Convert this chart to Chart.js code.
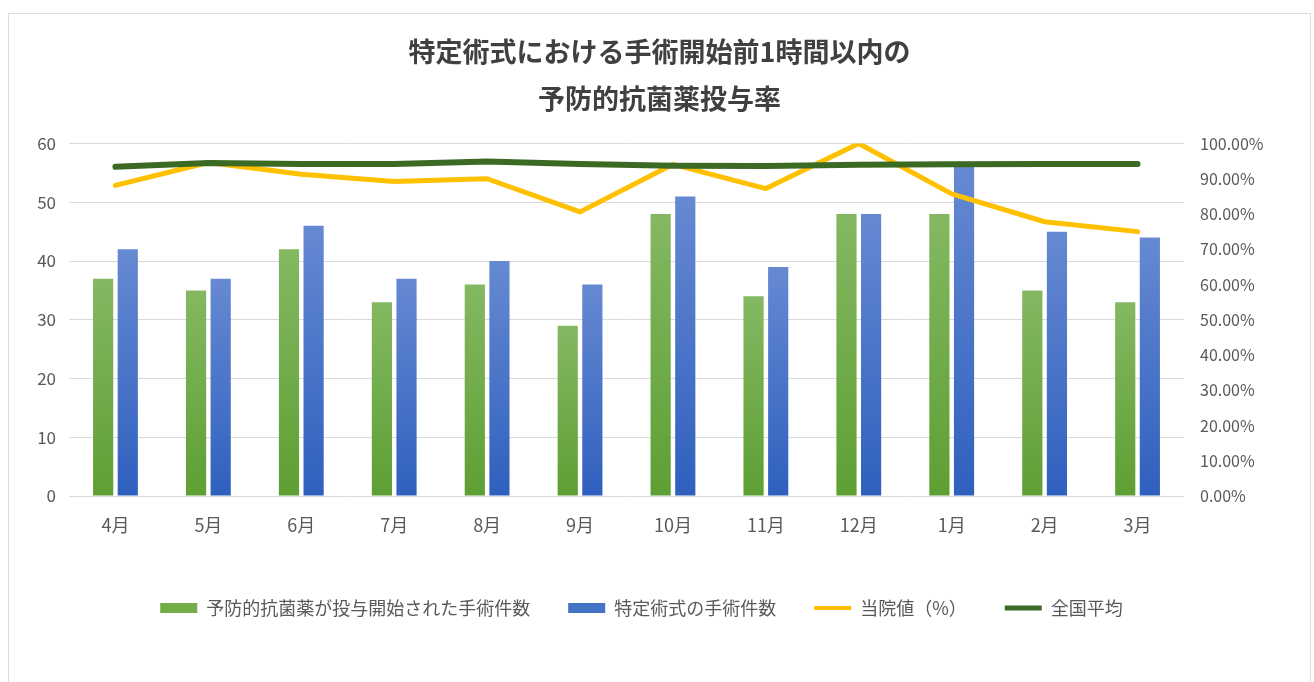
<!DOCTYPE html>
<html>
<head>
<meta charset="utf-8">
<script src="https://cdn.jsdelivr.net/npm/chart.js@4"></script>
<style>
  html,body{margin:0;padding:0;background:#fff;}
  #frame{position:absolute;left:8px;top:13px;width:1303px;height:720px;border:1px solid #dadde0;box-sizing:border-box;background:#fff;}
  #c{position:absolute;left:0;top:0;}
</style>
</head>
<body>
<div id="frame"><canvas id="c" width="1301" height="668"></canvas></div>
<script>
const months = ['4月','5月','6月','7月','8月','9月','10月','11月','12月','1月','2月','3月'];
const givenCount = [37,35,42,33,36,29,48,34,48,48,35,33];
const totalCount = [42,37,46,37,40,36,51,39,48,56,45,44];
const hospitalRate = [88.1,94.6,91.3,89.2,90.0,80.6,94.1,87.2,100,85.7,77.8,75.0];
const nationalAvg = [93.4,94.5,94.2,94.2,94.9,94.2,93.7,93.6,94.0,94.1,94.2,94.2];
const seriesNames = ['予防的抗菌薬が投与開始された手術件数','特定術式の手術件数','当院値（%）','全国平均'];
const titleLines = ['特定術式における手術開始前1時間以内の','予防的抗菌薬投与率'];

const FONT = '"Noto Sans CJK JP", "Noto Sans", sans-serif';
const TXT = '#595959';

function barGradient(top, bottom, fallback) {
  return function(ctx) {
    const chart = ctx.chart;
    const area = chart.chartArea;
    if (!area || ctx.raw == null) return fallback;
    const ys = chart.scales.y;
    const yTop = ys.getPixelForValue(ctx.raw);
    const yBot = ys.getPixelForValue(0);
    if (!isFinite(yTop) || yBot - yTop < 1) return fallback;
    const g = chart.ctx.createLinearGradient(0, yTop, 0, yBot);
    g.addColorStop(0, top);
    g.addColorStop(1, bottom);
    return g;
  };
}

const legendStyles = [
  {fill:'#70ad47', stroke:'#70ad47', style:'rect', lw:0},
  {fill:'#4472c4', stroke:'#4472c4', style:'rect', lw:0},
  {fill:'#ffc000', stroke:'#ffc000', style:'line', lw:4},
  {fill:'#3b6a25', stroke:'#3b6a25', style:'line', lw:5}
];

// shifts the legend drawing slightly left, as in the reference
const legendShift = {
  id:'legendShift',
  afterUpdate(chart){
    const lg = chart.legend;
    if (lg && !lg._shifted) {
      const orig = lg.draw.bind(lg);
      lg.draw = function(){
        const c = chart.ctx;
        c.save(); c.translate(-18, 0); orig(); c.restore();
      };
      lg._shifted = true;
    }
  }
};

new Chart(document.getElementById('c'), {
  data: {
    labels: months,
    datasets: [
      {type:'bar', label:seriesNames[0], data:givenCount, yAxisID:'y', order:2,
       backgroundColor: barGradient('#84b862','#5e9f33','#70ad47'),
       barPercentage:0.82, categoryPercentage:0.53},
      {type:'bar', label:seriesNames[1], data:totalCount, yAxisID:'y', order:3,
       backgroundColor: barGradient('#6689d2','#2f60be','#4472c4'),
       barPercentage:0.82, categoryPercentage:0.53},
      {type:'line', label:seriesNames[2], data:hospitalRate, yAxisID:'y2', order:1,
       borderColor:'#ffc000', backgroundColor:'#ffc000', borderWidth:5, pointRadius:0, tension:0,
       borderCapStyle:'round', borderJoinStyle:'round'},
      {type:'line', label:seriesNames[3], data:nationalAvg, yAxisID:'y2', order:0,
       borderColor:'#3b6a25', backgroundColor:'#3b6a25', borderWidth:6, pointRadius:0, tension:0,
       borderCapStyle:'round', borderJoinStyle:'round'}
    ]
  },
  plugins:[legendShift],
  options: {
    responsive:false,
    animation:false,
    devicePixelRatio:1,
    layout:{padding:{left:0,right:0,top:0,bottom:55}},
    plugins:{
      tooltip:{enabled:false},
      title:{
        display:true,
        text:titleLines,
        color:'#404040',
        font:{family:FONT, size:27, weight:'bold', lineHeight:1.75},
        padding:{top:14, bottom:21}
      },
      legend:{
        display:true,
        position:'bottom',
        labels:{
          color:TXT,
          font:{family:FONT, size:18},
          usePointStyle:true,
          pointStyleWidth:37,
          boxHeight:10,
          boxWidth:37,
          padding:38,
          generateLabels(chart){
            return chart.data.datasets.map((ds,i)=>({
              text: ds.label,
              fillStyle: legendStyles[i].fill,
              strokeStyle: legendStyles[i].stroke,
              lineWidth: legendStyles[i].lw,
              pointStyle: legendStyles[i].style,
              fontColor: TXT,
              hidden:false,
              datasetIndex:i
            }));
          }
        }
      }
    },
    scales:{
      x:{
        grid:{display:false, drawTicks:false},
        border:{display:false},
        ticks:{color:TXT, font:{family:FONT, size:18}, padding:18, maxRotation:0},
        afterFit(s){ s.height = 65; }
      },
      y:{
        position:'left',
        min:0, max:60,
        ticks:{stepSize:10, color:TXT, font:{family:FONT, size:17}, padding:13},
        grid:{color:'#d9d9d9', lineWidth:1, drawTicks:false},
        border:{display:false},
        afterFit(s){ s.width = 60; }
      },
      y2:{
        position:'right',
        min:0, max:100,
        ticks:{stepSize:10, color:TXT, font:{family:FONT, size:16}, padding:16,
               callback:(v)=>v.toFixed(2)+'%'},
        grid:{display:false, drawTicks:false},
        border:{display:false},
        afterFit(s){ s.width = 126; }
      }
    }
  }
});
</script>
</body>
</html>
